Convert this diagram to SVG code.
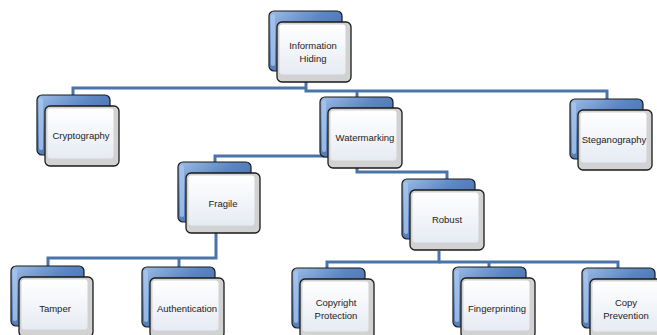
<svg xmlns="http://www.w3.org/2000/svg" xmlns:xlink="http://www.w3.org/1999/xlink" width="657" height="335" viewBox="0 0 657 335">
<style>
.c{fill:none;stroke:#4a74a8;stroke-width:3;stroke-linejoin:miter}
.t{font-family:"Liberation Sans",Arial,sans-serif;font-size:9.5px;fill:#222;text-anchor:middle}
</style>
<defs>
<linearGradient id="gb" x1="0" y1="0" x2="1" y2="1">
<stop offset="0" stop-color="#9dbde6"/><stop offset="0.4" stop-color="#5b86c2"/><stop offset="1" stop-color="#3a62a0"/>
</linearGradient>
<linearGradient id="gf" x1="0" y1="0" x2="0" y2="1">
<stop offset="0" stop-color="#ffffff"/><stop offset="1" stop-color="#e6ebf3"/>
</linearGradient>
<g id="box">
<rect x="-8" y="-11" width="73" height="60" rx="5" fill="url(#gb)" stroke="#1a1a1a" stroke-width="1.2"/>
<rect x="-6" y="-8" width="4" height="52" rx="2" fill="#a9c6ec" opacity="0.8"/>
<rect x="0" y="0" width="74" height="60" rx="5" fill="#d2d2d2" stroke="#1a1a1a" stroke-width="1.3"/>
<rect x="2.5" y="2.5" width="66" height="50" rx="3" fill="url(#gf)"/>
</g>
</defs>
<g id="connectors">
<path class="c" d="M306,82 V91 H607 V101"/>
<path class="c" d="M306,88 H73 V96"/>
<path class="c" d="M357,91 V99"/>
<path class="c" d="M357,156 H215 V164"/>
<path class="c" d="M357,168 V172 H447 V181"/>
<path class="c" d="M216,233 V258 H48 V268"/>
<path class="c" d="M179,258 V269"/>
<path class="c" d="M439,251 V262 H327 V269"/>
<path class="c" d="M439,262 H618 V269"/>
<path class="c" d="M489,262 V269"/>
</g>
<g id="information-hiding"><use xlink:href="#box" x="277" y="22"/><text class="t" x="313" y="49">Information</text><text class="t" x="313" y="62">Hiding</text></g>
<g id="cryptography"><use xlink:href="#box" x="45" y="106"/><text class="t" x="81" y="139">Cryptography</text></g>
<g id="watermarking"><use xlink:href="#box" x="328" y="108"/><text class="t" x="365" y="141">Watermarking</text></g>
<g id="steganography"><use xlink:href="#box" x="578" y="110"/><text class="t" x="614" y="143">Steganography</text></g>
<g id="fragile"><use xlink:href="#box" x="186" y="173"/><text class="t" x="223" y="207">Fragile</text></g>
<g id="robust"><use xlink:href="#box" x="410" y="190"/><text class="t" x="447" y="223">Robust</text></g>
<g id="tamper"><use xlink:href="#box" x="19" y="277"/><text class="t" x="55" y="312">Tamper</text></g>
<g id="authentication"><use xlink:href="#box" x="150" y="278"/><text class="t" x="187" y="312">Authentication</text></g>
<g id="copyright-protection"><use xlink:href="#box" x="300" y="279"/><text class="t" x="336" y="306">Copyright</text><text class="t" x="336" y="319">Protection</text></g>
<g id="fingerprinting"><use xlink:href="#box" x="461" y="278"/><text class="t" x="497" y="312">Fingerprinting</text></g>
<g id="copy-prevention"><use xlink:href="#box" x="590" y="279"/><text class="t" x="626" y="306">Copy</text><text class="t" x="626" y="319">Prevention</text></g>
</svg>
